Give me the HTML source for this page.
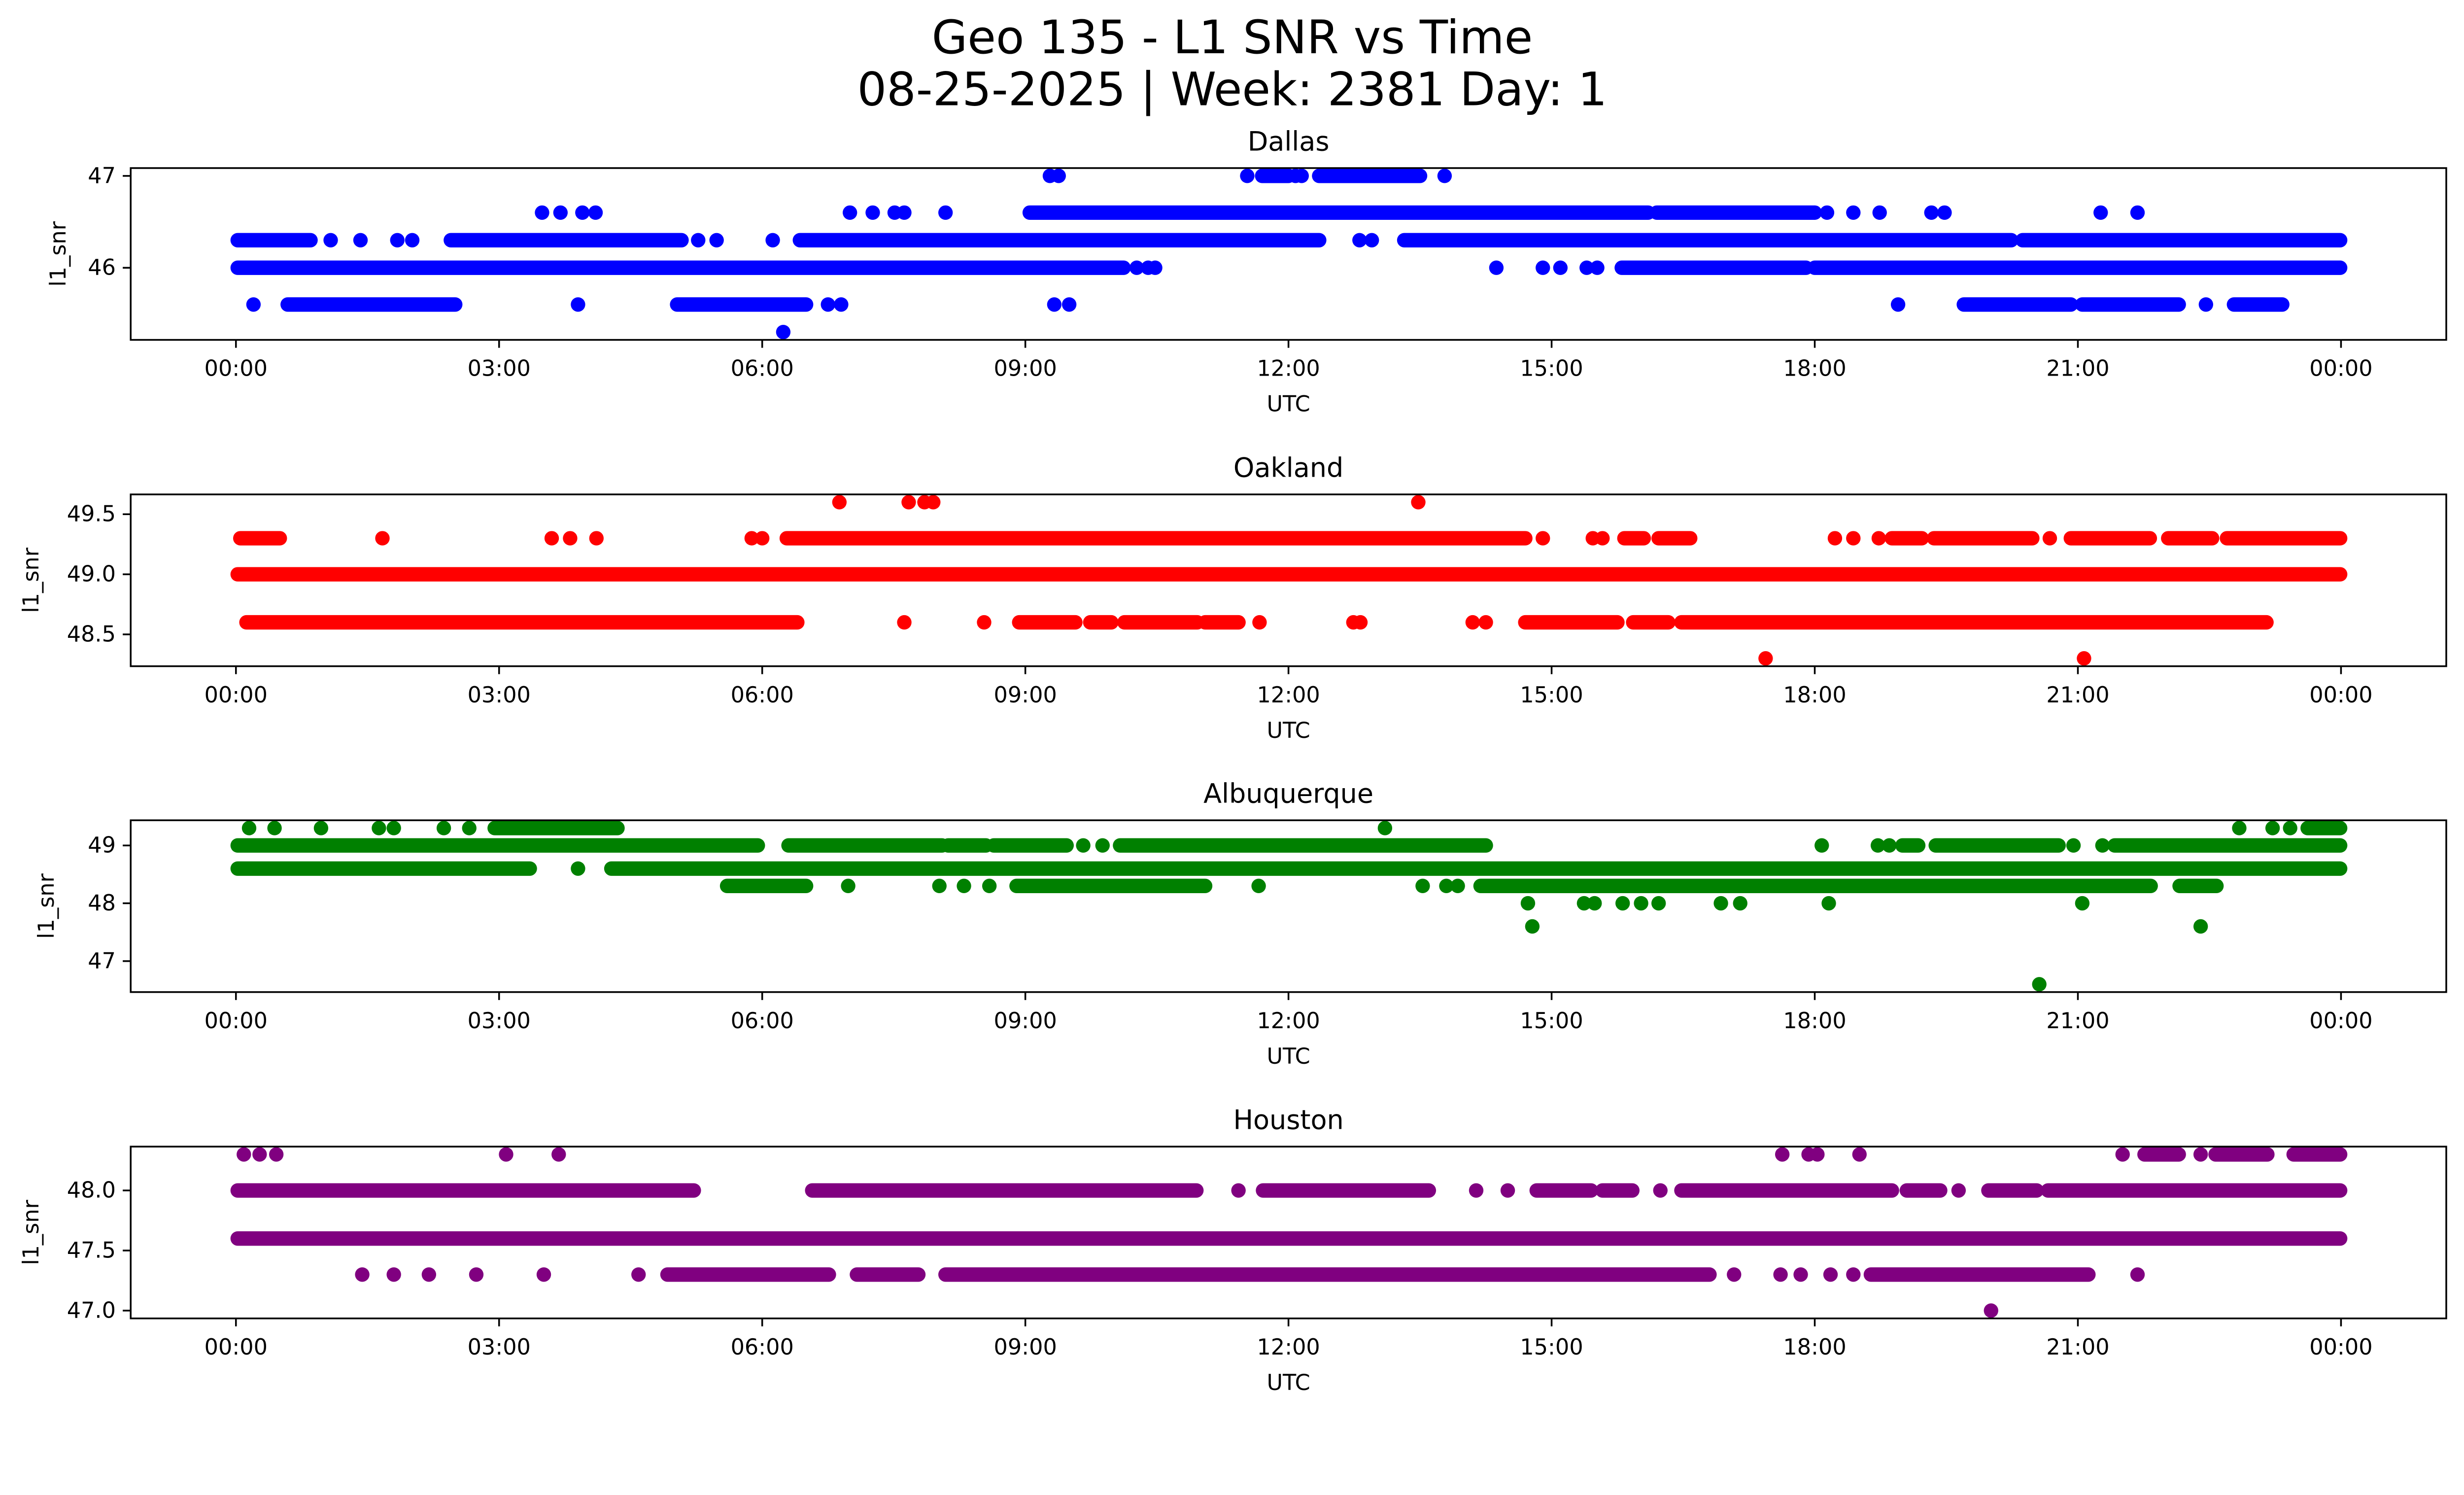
<!DOCTYPE html>
<html><head><meta charset="utf-8"><style>
html,body{margin:0;padding:0;background:#fff;overflow:hidden;}
svg{display:block;width:100vw;height:calc(100vw * 3033 / 5279);font-family:"DejaVu Sans","Liberation Sans",sans-serif;}
</style></head><body>
<svg id="chart" viewBox="0 0 5279 3033" preserveAspectRatio="xMidYMin meet" xmlns="http://www.w3.org/2000/svg">
<rect x="0" y="0" width="5279" height="3033" fill="#fff"/>
<text x="2640" y="81" font-size="99" text-anchor="middle" dominant-baseline="central">Geo 135 - L1 SNR vs Time</text>
<text x="2640" y="192" font-size="99" text-anchor="middle" dominant-baseline="central">08-25-2025 | Week: 2381 Day: 1</text>
</svg>
<script>
const xTickLabels = ["00:00","03:00","06:00","09:00","12:00","15:00","18:00","21:00","00:00"];
const xTickHours = [0,3,6,9,12,15,18,21,24];

const dallasLevels = [47, 46.6, 46.3, 46.0, 45.6, 45.3];
const dallasRuns = [
 [[9.28],[9.38],[11.53],[11.7,12.0],[12.08],[12.15],[12.35,13.5],[13.78]],
 [[3.49],[3.7],[3.95],[4.1],[7.0],[7.26],[7.51],[7.62],[8.09],[9.05,16.1],[16.2,18.0],[18.14],[18.44],[18.74],[19.33],[19.48],[21.26],[21.68]],
 [[0.02,0.85],[1.08],[1.42],[1.84],[2.01],[2.45,5.08],[5.27],[5.48],[6.12],[6.43,12.35],[12.81],[12.95],[13.32,20.24],[20.37,23.99]],
 [[0.02,10.12],[10.27],[10.4],[10.48],[14.37],[14.9],[15.1],[15.4],[15.52],[15.8,17.9],[18.0,23.99]],
 [[0.2],[0.59,2.5],[3.9],[5.03,6.5],[6.75],[6.9],[9.33],[9.5],[18.95],[19.7,20.92],[21.05,22.15],[22.46],[22.78,23.33]],
 [[6.24]]
];
const dallasTicks = [46, 47];
const dallasTickLabels = ["46","47"];

const oaklandLevels = [49.6, 49.3, 49.0, 48.6, 48.3];
const oaklandRuns = [
 [[6.88],[7.67],[7.85],[7.95],[13.48]],
 [[0.05,0.5],[1.67],[3.6],[3.81],[4.11],[5.88],[6.0],[6.28,14.7],[14.9],[15.47],[15.58],[15.83,16.05],[16.22,16.58],[18.23],[18.44],[18.73],[18.88,19.22],[19.36,20.48],[20.68],[20.92,21.82],[22.03,22.53],[22.7,23.99]],
 [[0.02,23.99]],
 [[0.12,6.4],[7.62],[8.53],[8.93,9.57],[9.74,9.98],[10.13,10.96],[11.05,11.43],[11.67],[12.74],[12.82],[14.1],[14.25],[14.7,15.75],[15.93,16.33],[16.48,23.15]],
 [[17.44],[21.07]]
];
const oaklandTicks = [48.5, 49.0, 49.5];
const oaklandTickLabels = ["48.5","49.0","49.5"];

const albuquerqueLevels = [49.3, 49.0, 48.6, 48.3, 48.0, 47.6, 46.6];
const albuquerqueRuns = [
 [[0.15],[0.44],[0.97],[1.63],[1.8],[2.37],[2.66],[2.95,4.35],[13.1],[22.84],[23.22],[23.42],[23.62,23.99]],
 [[0.02,5.95],[6.3,8.05],[8.12,8.55],[8.64,9.47],[9.66],[9.88],[10.08,14.25],[18.08],[18.72],[18.85],[19.0,19.18],[19.38,20.78],[20.95],[21.28],[21.42,23.99]],
 [[0.02,3.35],[3.9],[4.28,23.99]],
 [[5.6,6.5],[6.98],[8.02],[8.3],[8.59],[8.9,11.05],[11.66],[13.53],[13.8],[13.93],[14.19,21.83],[22.16,22.58]],
 [[14.73],[15.37],[15.49],[15.81],[16.02],[16.22],[16.93],[17.15],[18.16],[21.05]],
 [[14.78],[22.4]],
 [[20.56]]
];
const albuquerqueTicks = [47, 48, 49];
const albuquerqueTickLabels = ["47","48","49"];

const houstonLevels = [48.3, 48.0, 47.6, 47.3, 47.0];
const houstonRuns = [
 [[0.09],[0.27],[0.46],[3.08],[3.68],[17.63],[17.93],[18.03],[18.51],[21.51],[21.76,22.15],[22.4],[22.57,23.16],[23.46,23.99]],
 [[0.02,5.22],[6.57,10.95],[11.43],[11.71,13.6],[14.14],[14.5],[14.83,15.45],[15.58,15.92],[16.24],[16.48,18.88],[19.05,19.43],[19.64],[19.98,20.53],[20.66,23.99]],
 [[0.02,23.99]],
 [[1.44],[1.8],[2.2],[2.74],[3.51],[4.59],[4.92,6.76],[7.08,7.78],[8.09,16.8],[17.08],[17.61],[17.84],[18.18],[18.44],[18.64,21.12],[21.68]],
 [[20.01]]
];
const houstonTicks = [47.0, 47.5, 48.0];
const houstonTickLabels = ["47.0","47.5","48.0"];

const NS = "http://www.w3.org/2000/svg";
const svg = document.getElementById("chart");
const AX_L = 280, AX_R = 5241, AX_H = 368;
function mk(tag, attrs, parent) {
  const e = document.createElementNS(NS, tag);
  for (const k in attrs) e.setAttribute(k, attrs[k]);
  (parent || svg).appendChild(e);
  return e;
}
function xScale(h) { return AX_L + (h + 1.2) / 26.4 * (AX_R - AX_L); }

const panels = [
  {name:"dallas", title:"Dallas", top:360, color:"#0000ff", levels:dallasLevels, runs:dallasRuns, ticks:dallasTicks, labels:dallasTickLabels, ylabX:125},
  {name:"oakland", title:"Oakland", top:1059, color:"#ff0000", levels:oaklandLevels, runs:oaklandRuns, ticks:oaklandTicks, labels:oaklandTickLabels, ylabX:67},
  {name:"albuquerque", title:"Albuquerque", top:1757, color:"#008000", levels:albuquerqueLevels, runs:albuquerqueRuns, ticks:albuquerqueTicks, labels:albuquerqueTickLabels, ylabX:100},
  {name:"houston", title:"Houston", top:2456, color:"#800080", levels:houstonLevels, runs:houstonRuns, ticks:houstonTicks, labels:houstonTickLabels, ylabX:67}
];

panels.forEach(p => {
  const g = mk("g", {});
  
  
  const top = p.top, bot = top + AX_H;
  const lo = Math.min(...p.levels), hi = Math.max(...p.levels);
  const m = (hi - lo) * 0.05;
  const y0 = lo - m, y1 = hi + m;
  const yScale = v => bot - (v - y0) / (y1 - y0) * AX_H;

  const marks = mk("g", {fill: p.color, stroke: p.color}, g);
  
  
  p.levels.forEach((lv, i) => {
    const y = yScale(lv);
    p.runs[i].forEach(r => {
      let el;
      if (r.length === 1) {
        el = mk("circle", {cx: xScale(r[0]), cy: y, r: 15.5, stroke: "none"}, marks);
      } else {
        el = mk("line", {x1: xScale(r[0]), y1: y, x2: xScale(r[1]), y2: y, "stroke-width": 31, "stroke-linecap": "round"}, marks);
      }
      
      
    });
  });

  const frame = mk("rect", {x: AX_L, y: top, width: AX_R - AX_L, height: AX_H, fill: "none", stroke: "#000", "stroke-width": 3.7}, g);
  
  

  xTickHours.forEach((h, i) => {
    const x = xScale(h);
    mk("line", {x1: x, y1: bot, x2: x, y2: bot + 17, stroke: "#000", "stroke-width": 3.7}, g);
    const t = mk("text", {x: x, y: bot + 62, "font-size": 47, "text-anchor": "middle", "dominant-baseline": "central"}, g);
    t.textContent = xTickLabels[i];
    
    
  });
  p.ticks.forEach((v, i) => {
    const y = yScale(v);
    mk("line", {x1: AX_L - 17, y1: y, x2: AX_L, y2: y, stroke: "#000", "stroke-width": 3.7}, g);
    const t = mk("text", {x: AX_L - 32, y: y, "font-size": 47, "text-anchor": "end", "dominant-baseline": "central"}, g);
    t.textContent = p.labels[i];
    
    
  });
  const xt = mk("text", {x: (AX_L + AX_R) / 2, y: bot + 138, "font-size": 47, "text-anchor": "middle", "dominant-baseline": "central"}, g);
  xt.textContent = "UTC";
  
  
  const yt = mk("text", {x: p.ylabX, y: top + AX_H / 2, "font-size": 47, "text-anchor": "middle", "dominant-baseline": "central", transform: "rotate(-90 " + p.ylabX + " " + (top + AX_H / 2) + ")"}, g);
  yt.textContent = "l1_snr";
  
  
  const tt = mk("text", {x: (AX_L + AX_R) / 2, y: top - 57, "font-size": 57, "text-anchor": "middle", "dominant-baseline": "central"}, g);
  tt.textContent = p.title;
  
  
});
</script>
</body></html>
